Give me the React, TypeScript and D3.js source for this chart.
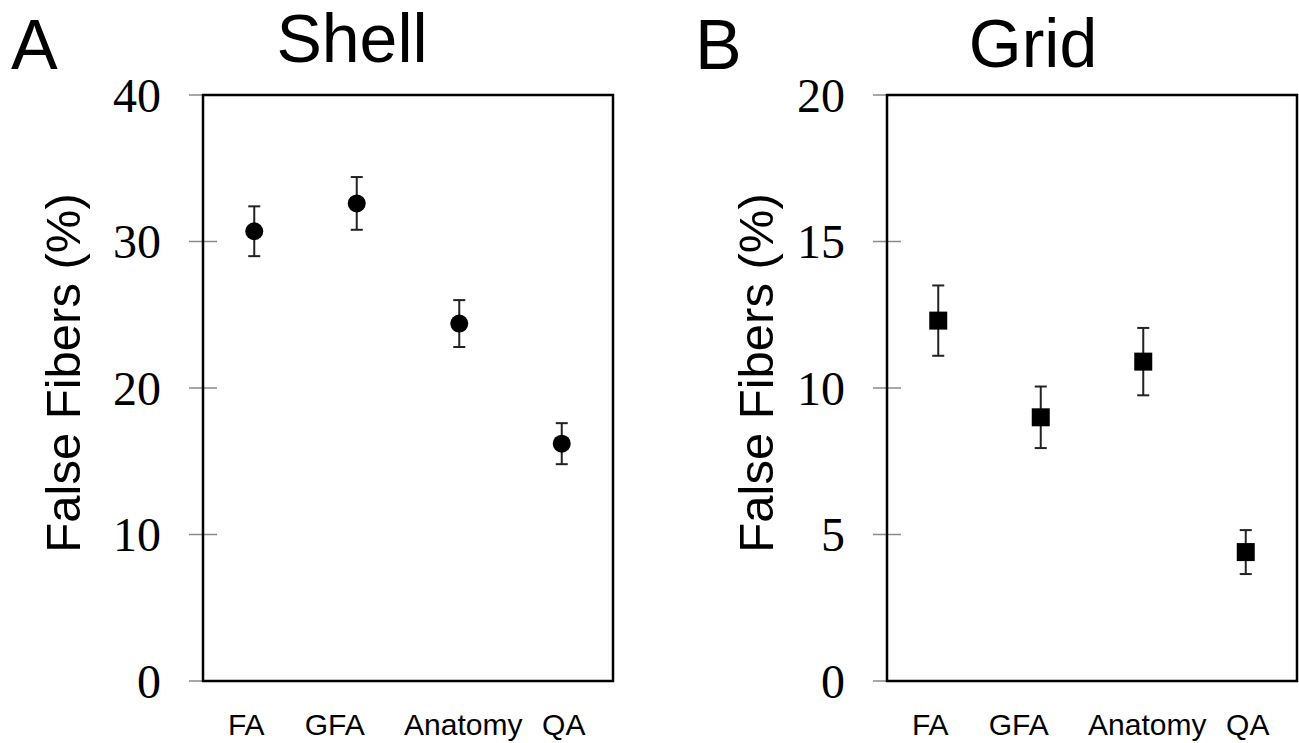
import React, { useEffect, useRef } from "react";
import * as d3 from "d3";

// categories and values
const categories = ["FA", "GFA", "Anatomy", "QA"];

const shellMean = [30.7, 32.6, 24.4, 16.2];
const shellErr = [1.7, 1.8, 1.6, 1.4];
const shellTicks = [0, 10, 20, 30, 40];

const gridMean = [12.3, 9.0, 10.9, 4.4];
const gridErr = [1.2, 1.05, 1.15, 0.75];
const gridTicks = [0, 5, 10, 15, 20];

const W = 1299;
const H = 743;

export default function App() {
  const ref = useRef<SVGSVGElement>(null);

  useEffect(() => {
    const svg = d3.select(ref.current);
    svg.selectAll("*").remove();

    const top = 95;
    const bottom = 681;
    const boxW = 410;
    const labelDx = [-8, -22, 4, 2];

    const panels = [
      { letter: "A", title: "Shell", titleX: 352, titleY: 62, left: 203, yLab: 80, mean: shellMean, err: shellErr, ticks: shellTicks, max: 40, marker: "circle" },
      { letter: "B", title: "Grid", titleX: 1033, titleY: 67, left: 887, yLab: 773, mean: gridMean, err: gridErr, ticks: gridTicks, max: 20, marker: "square" },
    ];

    panels.forEach((p) => {
      const g = svg.append("g");
      const y = d3.scaleLinear().domain([0, p.max]).range([bottom, top]);
      const x = d3.scalePoint<string>().domain(categories).range([p.left, p.left + boxW]).padding(0.5);

      // panel letter + title
      g.append("text")
        .attr("x", p.left - 192)
        .attr("y", 69)
        .attr("font-family", "Liberation Sans, Arial, sans-serif")
        .attr("font-size", 70)
        .text(p.letter);
      g.append("text")
        .attr("x", p.titleX)
        .attr("y", p.titleY)
        .attr("text-anchor", "middle")
        .attr("font-family", "Liberation Sans, Arial, sans-serif")
        .attr("font-size", 68)
        .text(p.title);

      // y ticks
      g.selectAll(".tick")
        .data(p.ticks)
        .enter()
        .append("line")
        .attr("x1", p.left - 14)
        .attr("x2", p.left + 14)
        .attr("y1", (d) => y(d))
        .attr("y2", (d) => y(d))
        .attr("stroke", "#8a8a8a")
        .attr("stroke-width", 1.5);

      g.selectAll(".tlab")
        .data(p.ticks)
        .enter()
        .append("text")
        .attr("x", p.left - 42)
        .attr("y", (d) => y(d))
        .attr("dy", "0.35em")
        .attr("text-anchor", "end")
        .attr("font-family", "Liberation Serif, Times New Roman, serif")
        .attr("font-size", 48)
        .text((d) => d);

      // frame
      g.append("rect")
        .attr("x", p.left)
        .attr("y", top)
        .attr("width", boxW)
        .attr("height", bottom - top)
        .attr("fill", "none")
        .attr("stroke", "#000")
        .attr("stroke-width", 2.5);

      // y axis title
      g.append("text")
        .attr("transform", `translate(${p.yLab},${(top + bottom) / 2 - 15}) rotate(-90)`)
        .attr("text-anchor", "middle")
        .attr("font-family", "Liberation Sans, Arial, sans-serif")
        .attr("font-size", 49)
        .text("False Fibers (%)");

      // category labels
      g.selectAll(".clab")
        .data(categories)
        .enter()
        .append("text")
        .attr("x", (d, i) => (x(d) as number) + labelDx[i])
        .attr("y", 735)
        .attr("text-anchor", "middle")
        .attr("font-family", "Liberation Sans, Arial, sans-serif")
        .attr("font-size", 30)
        .text((d) => d);

      // error bars
      const rows = categories.map((c, i) => ({ c, m: p.mean[i], e: p.err[i] }));
      const eb = g.selectAll(".eb").data(rows).enter().append("g").attr("stroke", "#222").attr("stroke-width", 2);
      eb.append("line")
        .attr("x1", (d) => x(d.c) as number)
        .attr("x2", (d) => x(d.c) as number)
        .attr("y1", (d) => y(d.m + d.e))
        .attr("y2", (d) => y(d.m - d.e));
      [1, -1].forEach((s) => {
        eb.append("line")
          .attr("x1", (d) => (x(d.c) as number) - 6)
          .attr("x2", (d) => (x(d.c) as number) + 6)
          .attr("y1", (d) => y(d.m + s * d.e))
          .attr("y2", (d) => y(d.m + s * d.e));
      });

      // markers
      if (p.marker === "circle") {
        g.selectAll(".pt")
          .data(rows)
          .enter()
          .append("circle")
          .attr("cx", (d) => x(d.c) as number)
          .attr("cy", (d) => y(d.m))
          .attr("r", 9)
          .attr("fill", "#000");
      } else {
        const sym = d3.symbol().type(d3.symbolSquare).size(18 * 18);
        g.selectAll(".pt")
          .data(rows)
          .enter()
          .append("path")
          .attr("d", sym as any)
          .attr("transform", (d) => `translate(${x(d.c)},${y(d.m)})`)
          .attr("fill", "#000");
      }
    });
  }, []);

  return (
    <svg
      ref={ref}
      width={W}
      height={H}
      style={{ position: "absolute", left: 0, top: 0, background: "#fff" }}
    />
  );
}
